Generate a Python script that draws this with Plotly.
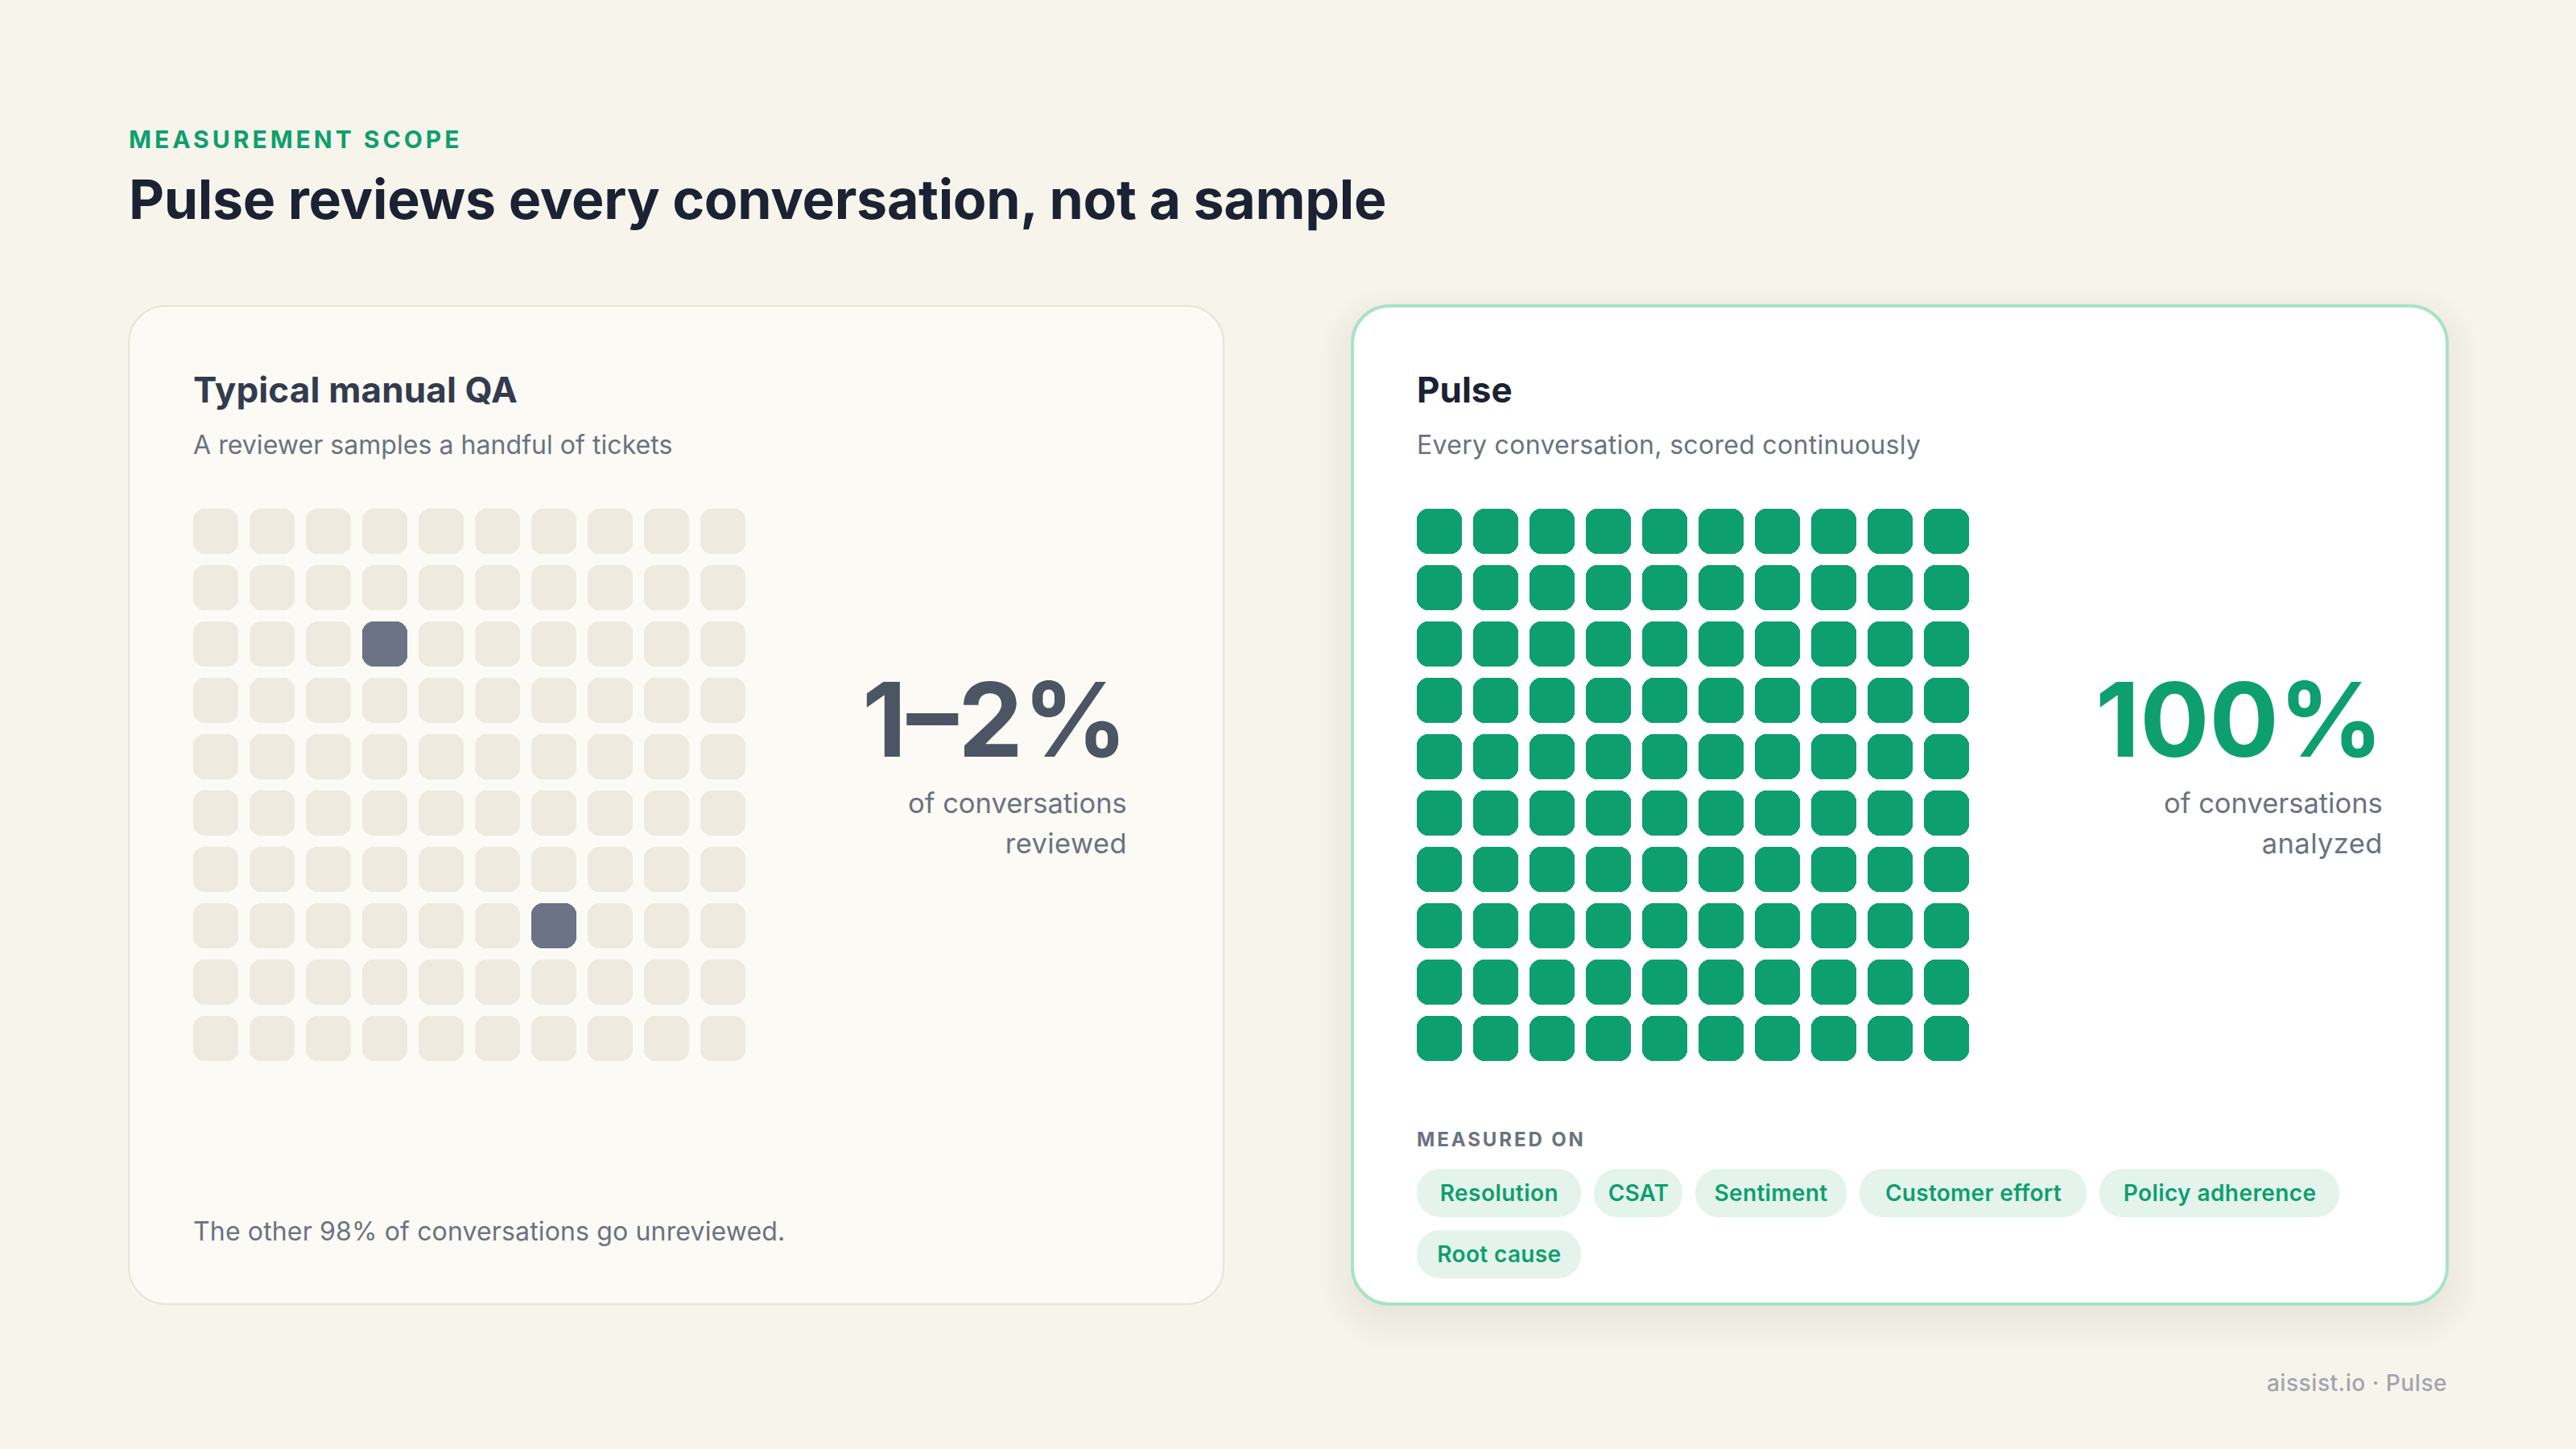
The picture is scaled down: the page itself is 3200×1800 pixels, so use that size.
import json
import plotly.graph_objects as go

# ---------- data ----------
MANUAL_GRID = [
    [0, 0, 0, 0, 0, 0, 0, 0, 0, 0],
    [0, 0, 0, 0, 0, 0, 0, 0, 0, 0],
    [0, 0, 0, 1, 0, 0, 0, 0, 0, 0],
    [0, 0, 0, 0, 0, 0, 0, 0, 0, 0],
    [0, 0, 0, 0, 0, 0, 0, 0, 0, 0],
    [0, 0, 0, 0, 0, 0, 0, 0, 0, 0],
    [0, 0, 0, 0, 0, 0, 0, 0, 0, 0],
    [0, 0, 0, 0, 0, 0, 1, 0, 0, 0],
    [0, 0, 0, 0, 0, 0, 0, 0, 0, 0],
    [0, 0, 0, 0, 0, 0, 0, 0, 0, 0],
]
PULSE_GRID = [
    [1, 1, 1, 1, 1, 1, 1, 1, 1, 1],
    [1, 1, 1, 1, 1, 1, 1, 1, 1, 1],
    [1, 1, 1, 1, 1, 1, 1, 1, 1, 1],
    [1, 1, 1, 1, 1, 1, 1, 1, 1, 1],
    [1, 1, 1, 1, 1, 1, 1, 1, 1, 1],
    [1, 1, 1, 1, 1, 1, 1, 1, 1, 1],
    [1, 1, 1, 1, 1, 1, 1, 1, 1, 1],
    [1, 1, 1, 1, 1, 1, 1, 1, 1, 1],
    [1, 1, 1, 1, 1, 1, 1, 1, 1, 1],
    [1, 1, 1, 1, 1, 1, 1, 1, 1, 1],
]
CHIP_LABELS = ["Resolution", "CSAT", "Sentiment", "Customer effort", "Policy adherence", "Root cause"]

# ---------- style ----------
W, H = 3200, 1800
FONT = "Inter"
BG = "#F7F4EC"
GREEN = "#0E9F6E"
GREY = "#6B7280"
CELL_ON = "#6C7387"
CELL_OFF = "#EEEADF"
CHIP_BOXES = [(1760, 1452, 204), (1980, 1452, 110), (2106, 1452, 188),
              (2310, 1452, 282), (2608, 1452, 298), (1760, 1528, 204)]
CHIP_H = 60


def px(x):
    return x / W


def py(y):
    return 1 - y / H


def rrect(x0, y0, x1, y1, r):
    k = 0.5523 * r
    pts = [
        f"M{px(x0 + r):.6f},{py(y0):.6f}",
        f"L{px(x1 - r):.6f},{py(y0):.6f}",
        f"C{px(x1 - r + k):.6f},{py(y0):.6f} {px(x1):.6f},{py(y0 + r - k):.6f} {px(x1):.6f},{py(y0 + r):.6f}",
        f"L{px(x1):.6f},{py(y1 - r):.6f}",
        f"C{px(x1):.6f},{py(y1 - r + k):.6f} {px(x1 - r + k):.6f},{py(y1):.6f} {px(x1 - r):.6f},{py(y1):.6f}",
        f"L{px(x0 + r):.6f},{py(y1):.6f}",
        f"C{px(x0 + r - k):.6f},{py(y1):.6f} {px(x0):.6f},{py(y1 - r + k):.6f} {px(x0):.6f},{py(y1 - r):.6f}",
        f"L{px(x0):.6f},{py(y0 + r):.6f}",
        f"C{px(x0):.6f},{py(y0 + r - k):.6f} {px(x0 + r - k):.6f},{py(y0):.6f} {px(x0 + r):.6f},{py(y0):.6f}",
        "Z",
    ]
    return "".join(pts)


shapes = []
# soft shadow below the Pulse card
for s in range(-20, 44, 4):
    shapes.append(dict(type="path", xref="paper", yref="paper", layer="below",
                       path=rrect(1680 - s, 380 + 16 - s, 3040 + s, 1620 + 16 + s, max(44 + s, 8)),
                       fillcolor="#3A3420", opacity=0.004, line=dict(width=0)))
shapes.append(dict(type="path", xref="paper", yref="paper", layer="below",
                   path=rrect(160, 380, 1520, 1620, 46),
                   fillcolor="#FBFAF5", line=dict(color="#E8E3D6", width=2)))
shapes.append(dict(type="path", xref="paper", yref="paper", layer="below",
                   path=rrect(1680, 380, 3040, 1620, 46),
                   fillcolor="#FFFFFF", line=dict(color="#A7E3C7", width=4)))
for (x, y, w) in CHIP_BOXES:
    shapes.append(dict(type="path", xref="paper", yref="paper", layer="below",
                       path=rrect(x, y, x + w, y + CHIP_H, 29),
                       fillcolor="#E4F3EC", line=dict(width=0)))

annotations = []


def text(s, x, baseline, size, color, weight=400, anchor="left"):
    annotations.append(dict(
        text=s, xref="paper", yref="paper", x=px(x), y=py(baseline - 0.364 * size),
        xanchor=anchor, yanchor="middle", align=anchor, showarrow=False, borderpad=0,
        font=dict(family=FONT, size=size, color=color, weight=weight)))


text("MEASUREMENT SCOPE", 159, 183.5, 30, GREEN, 700)
text("Pulse reviews every conversation, not a sample", 159, 272, 68, "#1A2233", 700)

text("Typical manual QA", 239, 500, 44, "#333B4D", 700)
text("A reviewer samples a handful of tickets", 239, 564, 32, GREY)
text("1–2%", 1401.5, 940, 128, "#4B5563", 700, "right")
text("of conversations", 1401, 1010, 34.5, GREY, 400, "right")
text("reviewed", 1401, 1060, 34.5, GREY, 400, "right")
text("The other 98% of conversations go unreviewed.", 239, 1541, 32, GREY)

text("Pulse", 1759, 500, 44, "#1A2233", 700)
text("Every conversation, scored continuously", 1759, 564, 32, GREY)
text("100%", 2961.5, 940, 128, GREEN, 700, "right")
text("of conversations", 2961, 1010, 34.5, GREY, 400, "right")
text("analyzed", 2961, 1060, 34.5, GREY, 400, "right")
text("MEASURED ON", 1759, 1424, 24, GREY, 700)
for label, (x, y, w) in zip(CHIP_LABELS, CHIP_BOXES):
    text(label, x + w / 2, y + 40, 28, GREEN, 600, "center")
text("aissist.io · Pulse", 3041, 1728, 28, "#A1A5AE", 500, "right")

fig = go.Figure()


def waffle(grid, on_color, off_color, ax):
    xs, bases, colors = [], [], []
    for r, row in enumerate(grid):
        for c, v in enumerate(row):
            xs.append(c)
            bases.append(r - 0.4)
            colors.append(on_color if v else off_color)
    fig.add_trace(go.Bar(x=xs, y=[0.8] * len(xs), base=bases, width=0.8,
                         marker=dict(color=colors, cornerradius=14, line=dict(width=0)),
                         xaxis=f"x{ax}", yaxis=f"y{ax}", showlegend=False, hoverinfo="skip"))


waffle(MANUAL_GRID, CELL_ON, CELL_OFF, "")
waffle(PULSE_GRID, GREEN, GREEN, "2")

axis = dict(showgrid=False, zeroline=False, showticklabels=False, ticks="", showline=False, fixedrange=True)
fig.update_layout(
    width=W, height=H, autosize=False, margin=dict(l=0, r=0, t=0, b=0, pad=0),
    paper_bgcolor=BG, plot_bgcolor="rgba(0,0,0,0)", showlegend=False,
    barmode="overlay", bargap=0,
    shapes=shapes, annotations=annotations,
    xaxis=dict(axis, domain=[px(240), px(926)], range=[-0.4, 9.4]),
    yaxis=dict(axis, domain=[py(1318), py(632)], range=[9.4, -0.4]),
    xaxis2=dict(axis, domain=[px(1760), px(2446)], range=[-0.4, 9.4]),
    yaxis2=dict(axis, domain=[py(1318), py(632)], range=[9.4, -0.4]),
)

SPACING = {
    "MEASUREMENT SCOPE": "4px",
    "MEASURED ON": "2.9px",
    "Pulse reviews every conversation, not a sample": "-0.28px",
    "Typical manual QA": "0.15px",
    "The other 98% of conversations go unreviewed.": "0.15px",
    "Every conversation, scored continuously": "0.3px",
    "A reviewer samples a handful of tickets": "0.05px",
    "reviewed": "0.4px",
    "analyzed": "0.4px",
    "aissist.io · Pulse": "0.56px",
    "Resolution": "0.45px",
    "CSAT": "0.1px",
    "Sentiment": "0.33px",
    "Customer effort": "0.28px",
    "Policy adherence": "0.42px",
    "Root cause": "0.35px",
}
post = """
document.body.style.margin = '0';
document.documentElement.style.background = '%s';
(function () {
  var sp = %s;
  function apply() {
    document.querySelectorAll('.annotation-text').forEach(function (t) {
      var v = sp[t.textContent];
      if (v) { t.style.letterSpacing = v; }
    });
  }
  apply();
  requestAnimationFrame(apply);
  setTimeout(apply, 200);
})();
""" % (BG, json.dumps(SPACING, ensure_ascii=False))

fig.write_html("out.html", post_script=post, config={"displayModeBar": False})
